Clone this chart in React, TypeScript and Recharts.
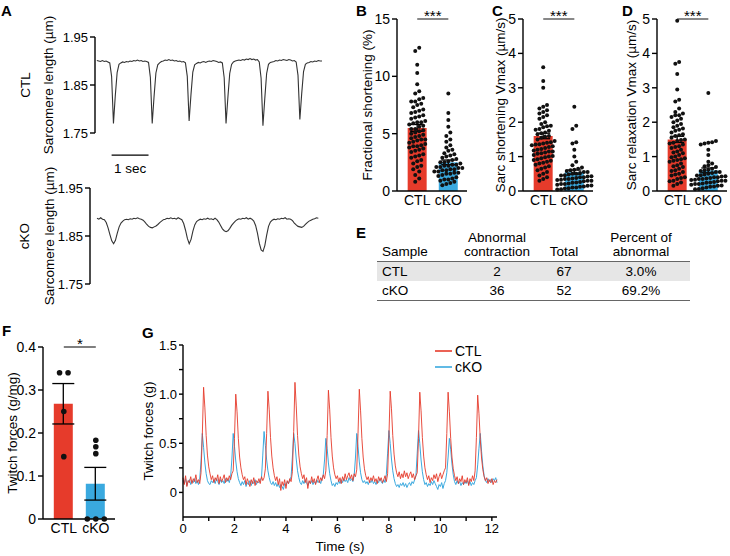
import React from 'react';
import {
  ComposedChart,
  LineChart,
  Line,
  Bar,
  Cell,
  Scatter,
  XAxis,
  YAxis,
  ErrorBar,
  ReferenceLine,
  Legend,
} from 'recharts';

const FONT = "'Liberation Sans', Arial, Helvetica, sans-serif";
const RED = '#e63b2b';
const BLUE = '#3aa9df';
const groups = ['CTL', 'cKO'];

// ---- Panel A: sarcomere length traces (µm), one sample every 0.05 s
const A_STEP = 0.05;
const aCtl = [
  1.901, 1.900, 1.899, 1.901, 1.899, 1.900, 1.898, 1.896, 1.868, 1.770, 1.828, 1.876, 1.893, 1.896, 1.898, 1.897, 1.899, 1.898, 1.900, 1.899,
  1.901, 1.900, 1.902, 1.900, 1.901, 1.899, 1.900, 1.899, 1.897, 1.866, 1.770, 1.826, 1.875, 1.892, 1.896, 1.899, 1.900, 1.902, 1.901, 1.903,
  1.901, 1.902, 1.900, 1.901, 1.899, 1.900, 1.898, 1.899, 1.896, 1.868, 1.775, 1.830, 1.877, 1.892, 1.895, 1.897, 1.896, 1.898, 1.899, 1.897,
  1.899, 1.900, 1.899, 1.901, 1.900, 1.899, 1.897, 1.898, 1.896, 1.865, 1.770, 1.824, 1.874, 1.893, 1.898, 1.900, 1.901, 1.902, 1.901, 1.903,
  1.902, 1.904, 1.903, 1.905, 1.903, 1.904, 1.902, 1.903, 1.898, 1.864, 1.765, 1.822, 1.874, 1.893, 1.897, 1.898, 1.899, 1.901, 1.900, 1.902,
  1.901, 1.903, 1.902, 1.901, 1.903, 1.902, 1.900, 1.901, 1.898, 1.870, 1.778, 1.832, 1.878, 1.893, 1.896, 1.897, 1.899, 1.898, 1.900, 1.899,
  1.901, 1.900, 1.900,
];
const aCko = [
  1.887, 1.885, 1.888, 1.885, 1.884, 1.878, 1.867, 1.853, 1.840, 1.834, 1.841, 1.856, 1.869, 1.877, 1.881, 1.884, 1.885, 1.884, 1.886, 1.885,
  1.887, 1.886, 1.888, 1.886, 1.885, 1.883, 1.879, 1.874, 1.870, 1.868, 1.867, 1.869, 1.871, 1.874, 1.878, 1.881, 1.884, 1.885, 1.887, 1.886,
  1.888, 1.886, 1.887, 1.885, 1.888, 1.886, 1.884, 1.876, 1.862, 1.845, 1.834, 1.843, 1.860, 1.873, 1.880, 1.883, 1.885, 1.884, 1.886, 1.885,
  1.887, 1.885, 1.886, 1.884, 1.887, 1.884, 1.879, 1.872, 1.865, 1.861, 1.859, 1.861, 1.866, 1.872, 1.877, 1.881, 1.884, 1.886, 1.885, 1.887,
  1.886, 1.888, 1.885, 1.887, 1.885, 1.881, 1.872, 1.856, 1.835, 1.821, 1.818, 1.830, 1.852, 1.870, 1.879, 1.883, 1.885, 1.884, 1.886, 1.885,
  1.887, 1.886, 1.888, 1.885, 1.886, 1.885, 1.882, 1.877, 1.873, 1.870, 1.869, 1.868, 1.870, 1.874, 1.878, 1.881, 1.883, 1.885, 1.886, 1.888,
  1.887,
];
const aTicks = [1.75, 1.85, 1.95];
const scaleBarStart = 0.4;
const scaleBarSec = 1;

// ---- Panels B–D: individual cells and mean ± SEM
const bCtl = [12.5, 12.2, 11.0, 10.3, 9.3, 8.7, 8.5, 8.1, 8.0, 7.8, 7.8, 7.6, 7.5, 7.3, 7.1, 6.9, 6.8, 6.6, 6.4, 6.3, 6.1, 6.0, 6.0, 5.8, 5.7, 5.6, 5.4, 5.4, 5.2, 5.1, 5.0, 4.9, 4.8, 4.7, 4.6, 4.5, 4.5, 4.3, 4.2, 4.1, 4.0, 3.9, 3.9, 3.7, 3.6, 3.5, 3.4, 3.2, 3.1, 3.0, 2.9, 2.7, 2.6, 2.4, 2.2, 2.1, 1.9, 1.7, 1.4, 1.1, 0.8, 5.9, 5.3, 6.5, 4.4, 3.8, 7.0];
const bCko = [8.5, 6.8, 6.2, 5.6, 5.1, 4.8, 4.5, 4.3, 4.0, 3.8, 3.6, 3.5, 3.3, 3.2, 3.1, 3.0, 2.9, 2.8, 2.7, 2.6, 2.5, 2.5, 2.4, 2.3, 2.3, 2.2, 2.1, 2.1, 2.0, 2.0, 1.9, 1.9, 1.8, 1.8, 1.7, 1.7, 1.6, 1.5, 1.5, 1.4, 1.3, 1.2, 1.1, 1.0, 1.0, 0.9, 0.8, 0.7, 0.6, 0.5, 2.2, 1.6];
const bMeans = [5.5, 2.5];
const bSems = [0.3, 0.2];

const cCtl = [3.6, 3.2, 3.0, 2.5, 2.45, 2.4, 2.35, 2.3, 2.25, 2.2, 2.15, 2.1, 2.0, 1.95, 1.9, 1.88, 1.85, 1.8, 1.78, 1.75, 1.7, 1.68, 1.65, 1.6, 1.58, 1.55, 1.5, 1.45, 1.42, 1.4, 1.38, 1.36, 1.33, 1.3, 1.28, 1.25, 1.22, 1.2, 1.18, 1.15, 1.12, 1.1, 1.08, 1.05, 1.02, 1.0, 0.98, 0.95, 0.92, 0.9, 0.88, 0.85, 0.82, 0.8, 0.76, 0.72, 0.68, 0.65, 0.6, 0.55, 0.5, 0.45, 0.4, 0.35, 0.3, 1.35, 1.15];
const cCko = [2.45, 1.9, 1.8, 1.42, 1.38, 1.2, 1.0, 0.85, 0.75, 0.68, 0.65, 0.62, 0.6, 0.58, 0.55, 0.52, 0.5, 0.5, 0.48, 0.46, 0.45, 0.43, 0.42, 0.4, 0.4, 0.38, 0.36, 0.35, 0.33, 0.32, 0.3, 0.3, 0.28, 0.26, 0.25, 0.24, 0.22, 0.2, 0.2, 0.18, 0.16, 0.15, 0.13, 0.12, 0.1, 0.1, 0.08, 0.07, 0.05, 0.04, 0.55, 0.35];
const cMeans = [1.6, 0.55];
const cSems = [0.08, 0.06];

const dCtl = [4.95, 3.75, 3.7, 3.4, 2.95, 2.65, 2.6, 2.4, 2.25, 2.2, 2.2, 2.15, 2.1, 2.05, 2.0, 1.95, 1.9, 1.85, 1.82, 1.78, 1.75, 1.7, 1.65, 1.6, 1.55, 1.5, 1.48, 1.45, 1.4, 1.35, 1.3, 1.28, 1.25, 1.2, 1.15, 1.12, 1.1, 1.05, 1.0, 0.98, 0.95, 0.9, 0.88, 0.85, 0.8, 0.75, 0.72, 0.7, 0.65, 0.6, 0.58, 0.55, 0.5, 0.48, 0.45, 0.4, 0.38, 0.35, 0.3, 0.28, 0.25, 0.2, 0.15, 1.38, 1.62, 0.92, 2.3];
const dCko = [2.85, 1.45, 1.42, 1.4, 1.38, 1.35, 1.2, 1.05, 0.85, 0.8, 0.75, 0.72, 0.7, 0.65, 0.62, 0.6, 0.58, 0.55, 0.52, 0.5, 0.48, 0.46, 0.45, 0.43, 0.42, 0.4, 0.4, 0.38, 0.36, 0.35, 0.33, 0.32, 0.3, 0.3, 0.28, 0.26, 0.25, 0.24, 0.22, 0.2, 0.2, 0.18, 0.16, 0.15, 0.13, 0.12, 0.1, 0.08, 0.06, 0.05, 0.55, 0.35];
const dMeans = [1.5, 0.6];
const dSems = [0.09, 0.07];

// ---- Panel E: table
const eSamples = ['CTL', 'cKO'];
const eAbnormal = [2, 36];
const eTotal = [67, 52];
const ePercent = ['3.0%', '69.2%'];

// ---- Panel F: twitch force per mg
const fCtl = [0.34, 0.34, 0.25, 0.145];
const fCko = [0.183, 0.168, 0.152, 0, 0, 0];
const fMeans = [0.268, 0.082];
const fSems = [0.047, 0.038];

// ---- Panel G: twitch force traces (g), one sample every 0.05 s
const G_STEP = 0.05;
const gCtl = [
  0.15, 0.08, 0.17, 0.06, 0.12, 0.10, 0.16, 0.09, 0.14, 0.11, 0.18, 0.10, 0.13, 0.09, 0.20, 0.58, 1.07, 0.86, 0.58, 0.38,
  0.26, 0.19, 0.13, 0.17, 0.10, 0.15, 0.12, 0.18, 0.09, 0.16, 0.11, 0.14, 0.18, 0.10, 0.15, 0.12, 0.17, 0.13, 0.19, 0.22,
  0.55, 1.00, 0.82, 0.55, 0.36, 0.25, 0.18, 0.13, 0.16, 0.08, 0.14, 0.10, 0.06, 0.13, 0.09, 0.15, 0.07, 0.12, 0.10, 0.14,
  0.09, 0.16, 0.12, 0.15, 0.24, 0.60, 1.03, 0.84, 0.56, 0.37, 0.25, 0.17, 0.12, 0.16, 0.08, 0.14, 0.02, 0.11, 0.07, 0.13,
  0.04, 0.12, 0.09, 0.14, 0.11, 0.21, 0.62, 1.12, 0.88, 0.58, 0.38, 0.26, 0.19, 0.14, 0.18, 0.10, 0.15, 0.04, 0.12, 0.09,
  0.16, 0.10, 0.14, 0.08, 0.13, 0.17, 0.10, 0.15, 0.12, 0.18, 0.14, 0.22, 0.58, 1.04, 0.84, 0.56, 0.37, 0.25, 0.18, 0.14,
  0.17, 0.11, 0.15, 0.09, 0.16, 0.12, 0.19, 0.13, 0.17, 0.20, 0.14, 0.18, 0.12, 0.19, 0.16, 0.23, 0.60, 1.05, 0.83, 0.55,
  0.36, 0.24, 0.17, 0.13, 0.16, 0.10, 0.15, 0.12, 0.17, 0.11, 0.14, 0.09, 0.16, 0.12, 0.15, 0.10, 0.13, 0.17, 0.11, 0.19,
  0.56, 1.03, 0.85, 0.58, 0.39, 0.27, 0.20, 0.16, 0.21, 0.14, 0.19, 0.15, 0.22, 0.16, 0.20, 0.14, 0.18, 0.21, 0.15, 0.19,
  0.13, 0.17, 0.20, 0.55, 1.02, 0.83, 0.56, 0.37, 0.25, 0.18, 0.13, 0.17, 0.10, 0.15, 0.12, 0.18, 0.14, 0.19, 0.11, 0.16,
  0.20, 0.14, 0.18, 0.22, 0.25, 0.60, 1.02, 0.82, 0.55, 0.36, 0.24, 0.17, 0.12, 0.16, 0.09, 0.14, 0.11, 0.17, 0.08, 0.13,
  0.10, 0.15, 0.07, 0.14, 0.11, 0.17, 0.12, 0.22, 0.56, 0.99, 0.80, 0.54, 0.35, 0.23, 0.16, 0.12, 0.15, 0.09, 0.13, 0.10,
  0.14, 0.08, 0.12, 0.10, 0.13,
];
const gCko = [
  0.12, 0.09, 0.14, 0.07, 0.11, 0.13, 0.08, 0.12, 0.10, 0.14, 0.09, 0.12, 0.08, 0.13, 0.32, 0.60, 0.46, 0.30, 0.19, 0.12,
  0.09, 0.08, 0.12, 0.10, 0.13, 0.09, 0.14, 0.11, 0.08, 0.13, 0.10, 0.12, 0.09, 0.14, 0.11, 0.13, 0.10, 0.16, 0.34, 0.60,
  0.47, 0.32, 0.21, 0.14, 0.10, 0.07, 0.11, 0.08, 0.12, 0.06, 0.10, 0.08, 0.12, 0.07, 0.11, 0.09, 0.13, 0.08, 0.11, 0.10,
  0.12, 0.15, 0.38, 0.62, 0.48, 0.33, 0.22, 0.15, 0.10, 0.08, 0.11, 0.07, 0.10, 0.06, 0.09, 0.05, 0.08, 0.06, 0.03, 0.09,
  0.07, 0.11, 0.09, 0.13, 0.16, 0.36, 0.60, 0.50, 0.34, 0.22, 0.15, 0.10, 0.08, 0.12, 0.09, 0.13, 0.10, 0.07, 0.11, 0.09,
  0.12, 0.08, 0.11, 0.09, 0.13, 0.10, 0.12, 0.09, 0.14, 0.18, 0.33, 0.55, 0.45, 0.30, 0.19, 0.12, 0.07, 0.09, 0.06, 0.10,
  0.08, 0.12, 0.09, 0.13, 0.10, 0.14, 0.11, 0.13, 0.10, 0.15, 0.12, 0.14, 0.11, 0.17, 0.35, 0.60, 0.47, 0.31, 0.20, 0.13,
  0.10, 0.12, 0.09, 0.11, 0.08, 0.12, 0.10, 0.13, 0.09, 0.11, 0.08, 0.12, 0.10, 0.14, 0.11, 0.09, 0.13, 0.10, 0.18, 0.40,
  0.63, 0.50, 0.34, 0.22, 0.14, 0.09, 0.06, 0.08, 0.05, 0.09, 0.07, 0.10, 0.06, 0.09, 0.05, 0.08, 0.10, 0.07, 0.11, 0.09,
  0.13, 0.17, 0.40, 0.63, 0.50, 0.33, 0.21, 0.13, 0.08, 0.10, 0.06, 0.09, 0.07, 0.11, 0.08, 0.12, 0.09, 0.06, 0.03, 0.08,
  0.06, 0.10, 0.04, 0.09, 0.12, 0.20, 0.36, 0.55, 0.44, 0.29, 0.18, 0.11, 0.08, 0.12, 0.09, 0.11, 0.07, 0.10, 0.08, 0.11,
  0.09, 0.12, 0.08, 0.11, 0.07, 0.10, 0.08, 0.12, 0.15, 0.28, 0.45, 0.60, 0.42, 0.27, 0.17, 0.12, 0.10, 0.14, 0.11, 0.13,
  0.10, 0.14, 0.12, 0.15, 0.10,
];
const gXTicks = [0, 1, 2, 3, 4, 5, 6, 7, 8, 9, 10, 11, 12];
const gYTicks = [0, 0.25, 0.5, 0.75, 1, 1.25, 1.5];
const gLegend = [
  { name: 'CTL', color: RED },
  { name: 'cKO', color: BLUE },
];

const X_DOMAIN: [number, number] = [0.35, 2.6];
const axisStyle = { stroke: '#000', strokeWidth: 1.4 };

type Pt = { x: number; y: number };

// prism-like column scatter: values closer than binPx share a row, rows are centred
function swarm(values: number[], center: number, pxY: number, pxX: number, binPx: number, stepPx: number): Pt[] {
  const sorted = [...values].sort((a, b) => a - b);
  const rows: number[][] = [];
  let start = -Infinity;
  sorted.forEach((v) => {
    if (rows.length === 0 || (v - start) * pxY >= binPx) {
      rows.push([v]);
      start = v;
    } else {
      rows[rows.length - 1].push(v);
    }
  });
  const pts: Pt[] = [];
  rows.forEach((row) => {
    row.forEach((v, i) => {
      pts.push({ x: center + ((i - (row.length - 1) / 2) * stepPx) / pxX, y: v });
    });
  });
  return pts;
}

const rotLabels = (items: { text: string; x: number }[], fontSize: number) => (props: any) => {
  const vb = props.viewBox || {};
  const cy = (vb.y ?? 0) + (vb.height ?? 0) / 2;
  return (
    <g>
      {items.map((it) => (
        <text
          key={it.text}
          x={it.x}
          y={cy}
          transform={`rotate(-90, ${it.x}, ${cy})`}
          textAnchor="middle"
          dominantBaseline="central"
          fontSize={fontSize}
          fontFamily={FONT}
          fill="#000"
        >
          {it.text}
        </text>
      ))}
    </g>
  );
};

const sigLabel = (text: string) => (props: any) => {
  const vb = props.viewBox || {};
  return (
    <text x={vb.x + (vb.width || 0) / 2} y={vb.y + 1.5} textAnchor="middle" fontSize={15} fontFamily={FONT} fill="#000">
      {text}
    </text>
  );
};

const dotShape = (r: number) => (p: any) => <circle cx={p.cx} cy={p.cy} r={r} fill="#111" />;

type DotBarProps = {
  left: number;
  top: number;
  width: number;
  height: number;
  axisW: number;
  mRight: number;
  mTop: number;
  xAxisH: number;
  yDomain: [number, number];
  yTicks: number[];
  tickFmt?: (v: number) => string;
  ctl: number[];
  cko: number[];
  means: number[];
  sems: number[];
  label: string;
  labelX: number;
  sig: string;
  dotR: number;
  binPx: number;
  stepPx: number;
  capW: number;
};

const DotBarPanel: React.FC<DotBarProps> = (p) => {
  const plotH = p.height - p.mTop - p.xAxisH;
  const plotW = p.width - p.axisW - p.mRight;
  const pxY = plotH / (p.yDomain[1] - p.yDomain[0]);
  const pxX = plotW / (X_DOMAIN[1] - X_DOMAIN[0]);
  const barData = groups.map((g, i) => ({ x: i + 1, name: g, mean: p.means[i], sem: p.sems[i] }));
  const dots = [
    ...swarm(p.ctl, 1, pxY, pxX, p.binPx, p.stepPx),
    ...swarm(p.cko, 2, pxY, pxX, p.binPx, p.stepPx),
  ];
  return (
    <div style={{ position: 'absolute', left: p.left, top: p.top }}>
      <ComposedChart
        width={p.width}
        height={p.height}
        data={barData}
        margin={{ top: p.mTop, right: p.mRight, left: 0, bottom: 0 }}
      >
        <XAxis
          dataKey="x"
          type="number"
          domain={X_DOMAIN}
          ticks={[1, 2]}
          interval={0}
          tickFormatter={(v: number) => groups[v - 1] ?? ''}
          axisLine={axisStyle}
          tickLine={false}
          tickSize={0}
          tickMargin={4}
          height={p.xAxisH}
          tick={{ fill: '#000', fontSize: 14, fontFamily: FONT }}
        />
        <XAxis xAxisId="dots" dataKey="x" type="number" domain={X_DOMAIN} hide />
        <YAxis
          type="number"
          domain={p.yDomain}
          ticks={p.yTicks}
          interval={0}
          tickFormatter={p.tickFmt}
          width={p.axisW}
          axisLine={axisStyle}
          tickLine={axisStyle}
          tickSize={5}
          tickMargin={2}
          tick={{ fill: '#000', fontSize: 14, fontFamily: FONT }}
          label={rotLabels([{ text: p.label, x: p.labelX }], 13.5)}
        />
        <Bar dataKey="mean" barSize={19} isAnimationActive={false}>
          {barData.map((d, i) => (
            <Cell key={d.name} fill={i === 0 ? RED : BLUE} />
          ))}
          <ErrorBar dataKey="sem" width={p.capW} stroke="#000" strokeWidth={1.3} />
        </Bar>
        <Scatter xAxisId="dots" data={dots} dataKey="y" isAnimationActive={false} shape={dotShape(p.dotR)} />
        <ReferenceLine
          segment={[
            { x: 1, y: p.yDomain[1] },
            { x: 2, y: p.yDomain[1] },
          ]}
          stroke="#555"
          strokeWidth={1.4}
          ifOverflow="visible"
          label={sigLabel(p.sig)}
        />
      </ComposedChart>
    </div>
  );
};

const Letter = ({ ch, x, y }: { ch: string; x: number; y: number }) => (
  <div style={{ position: 'absolute', left: x, top: y, fontSize: 15, lineHeight: '15px', fontWeight: 700, fontFamily: FONT }}>
    {ch}
  </div>
);

const aCtlData = aCtl.map((v, i) => ({ t: i * A_STEP, v }));
const aCkoData = aCko.map((v, i) => ({ t: i * A_STEP, v }));
const gData = gCtl.map((v, i) => ({ t: i * G_STEP, ctl: v, cko: gCko[i] }));

const aTick = { fill: '#000', fontSize: 13, fontFamily: FONT };

const GLegendContent = () => (
  <div style={{ fontFamily: FONT, fontSize: 14, color: '#000' }}>
    {gLegend.map((it) => (
      <div key={it.name} style={{ display: 'flex', alignItems: 'center', height: 16 }}>
        <svg width={18} height={16}>
          <line x1={0} x2={17} y1={8} y2={8} stroke={it.color} strokeWidth={1.6} />
        </svg>
        <span style={{ marginLeft: 2 }}>{it.name}</span>
      </div>
    ))}
  </div>
);

const Table = () => {
  const th: React.CSSProperties = { fontWeight: 400, verticalAlign: 'bottom', lineHeight: '14px', padding: '0 0 2px 0', textAlign: 'center' };
  const td: React.CSSProperties = { height: 19, padding: 0, textAlign: 'center', lineHeight: '19px' };
  return (
    <table
      style={{
        position: 'absolute',
        left: 377,
        top: 231,
        width: 313,
        borderCollapse: 'collapse',
        fontFamily: FONT,
        fontSize: 13.5,
        color: '#000',
        tableLayout: 'fixed',
      }}
    >
      <colgroup>
        <col style={{ width: 81 }} />
        <col style={{ width: 78 }} />
        <col style={{ width: 56 }} />
        <col style={{ width: 98 }} />
      </colgroup>
      <thead>
        <tr style={{ borderBottom: '1.5px solid #666' }}>
          <th style={{ ...th, textAlign: 'left', paddingLeft: 5 }}>Sample</th>
          <th style={th}>
            Abnormal
            <br />
            contraction
          </th>
          <th style={th}>Total</th>
          <th style={th}>
            Percent of
            <br />
            abnormal
          </th>
        </tr>
      </thead>
      <tbody>
        {eSamples.map((s, i) => (
          <tr
            key={s}
            style={{
              background: i === 0 ? '#e6e6e6' : 'transparent',
              borderBottom: i === eSamples.length - 1 ? '1.5px solid #666' : 'none',
            }}
          >
            <td style={{ ...td, textAlign: 'left', paddingLeft: 5 }}>{s}</td>
            <td style={td}>{eAbnormal[i]}</td>
            <td style={td}>{eTotal[i]}</td>
            <td style={td}>{ePercent[i]}</td>
          </tr>
        ))}
      </tbody>
    </table>
  );
};

export default function App() {
  return (
    <div
      style={{
        position: 'absolute',
        left: 0,
        top: 0,
        width: 730,
        height: 556,
        background: '#fff',
        fontFamily: FONT,
        overflow: 'hidden',
      }}
    >
      {/* A, CTL trace */}
      <div style={{ position: 'absolute', left: 0, top: 0 }}>
        <LineChart width={330} height={180} data={aCtlData} margin={{ top: 37, right: 8, left: 0, bottom: 47 }}>
          <XAxis dataKey="t" type="number" domain={[-0.05, 6.1]} hide />
          <YAxis
            type="number"
            domain={[1.75, 1.95]}
            ticks={aTicks}
            interval={0}
            tickFormatter={(v: number) => v.toFixed(2)}
            width={95}
            axisLine={axisStyle}
            tickLine={axisStyle}
            tickSize={5}
            tickMargin={2}
            tick={aTick}
            label={rotLabels(
              [
                { text: 'CTL', x: 25 },
                { text: 'Sarcomere length (µm)', x: 48 },
              ],
              13.5,
            )}
          />
          <Line dataKey="v" stroke="#333" strokeWidth={1.1} dot={false} isAnimationActive={false} />
          <ReferenceLine
            segment={[
              { x: scaleBarStart, y: 1.704 },
              { x: scaleBarStart + scaleBarSec, y: 1.704 },
            ]}
            stroke="#000"
            strokeWidth={1.3}
            ifOverflow="visible"
            label={(props: any) => {
              const vb = props.viewBox || {};
              return (
                <text x={vb.x + (vb.width || 0) / 2} y={vb.y + 18} textAnchor="middle" fontSize={13.5} fontFamily={FONT} fill="#000">
                  1 sec
                </text>
              );
            }}
          />
        </LineChart>
      </div>

      {/* A, cKO trace */}
      <div style={{ position: 'absolute', left: 0, top: 150 }}>
        <LineChart width={330} height={175} data={aCkoData} margin={{ top: 38, right: 8, left: 0, bottom: 41 }}>
          <XAxis dataKey="t" type="number" domain={[-0.19, 6.1]} hide />
          <YAxis
            type="number"
            domain={[1.75, 1.95]}
            ticks={aTicks}
            interval={0}
            tickFormatter={(v: number) => v.toFixed(2)}
            width={90}
            axisLine={axisStyle}
            tickLine={axisStyle}
            tickSize={5}
            tickMargin={2}
            tick={aTick}
            label={rotLabels(
              [
                { text: 'cKO', x: 24 },
                { text: 'Sarcomere length (µm)', x: 49 },
              ],
              13.5,
            )}
          />
          <Line dataKey="v" stroke="#333" strokeWidth={1.1} dot={false} isAnimationActive={false} />
        </LineChart>
      </div>

      <DotBarPanel
        left={340} top={0} width={130} height={215} axisW={57} mRight={3} mTop={19} xAxisH={24}
        yDomain={[0, 15]} yTicks={[0, 5, 10, 15]}
        ctl={bCtl} cko={bCko} means={bMeans} sems={bSems}
        label="Fractional shortening (%)" labelX={27} sig="***"
        dotR={2} binPx={4.2} stepPx={4.0} capW={7}
      />
      <DotBarPanel
        left={470} top={0} width={130} height={215} axisW={53} mRight={7} mTop={19} xAxisH={24}
        yDomain={[0, 5]} yTicks={[0, 1, 2, 3, 4, 5]}
        ctl={cCtl} cko={cCko} means={cMeans} sems={cSems}
        label="Sarc shortening Vmax (µm/s)" labelX={30} sig="***"
        dotR={2} binPx={4.2} stepPx={3.8} capW={7}
      />
      <DotBarPanel
        left={600} top={0} width={130} height={215} axisW={57} mRight={3} mTop={19} xAxisH={24}
        yDomain={[0, 5]} yTicks={[0, 1, 2, 3, 4, 5]}
        ctl={dCtl} cko={dCko} means={dMeans} sems={dSems}
        label="Sarc relaxation Vmax (µm/s)" labelX={31} sig="***"
        dotR={2} binPx={4.2} stepPx={3.8} capW={7}
      />

      <Table />

      <DotBarPanel
        left={0} top={310} width={128} height={240} axisW={43} mRight={13} mTop={37} xAxisH={31}
        yDomain={[0, 0.4]} yTicks={[0, 0.1, 0.2, 0.3, 0.4]}
        tickFmt={(v: number) => (v === 0 ? '0' : v.toFixed(1))}
        ctl={fCtl} cko={fCko} means={fMeans} sems={fSems}
        label="Twitch forces (g/mg)" labelX={12} sig="*"
        dotR={2.8} binPx={6} stepPx={8.5} capW={11}
      />

      {/* G */}
      <div style={{ position: 'absolute', left: 128, top: 310 }}>
        <LineChart width={380} height={246} data={gData} margin={{ top: 35, right: 11, left: 0, bottom: 0 }}>
          <XAxis
            dataKey="t"
            type="number"
            domain={[0, 12.2]}
            ticks={gXTicks}
            interval={0}
            tickFormatter={(v: number) => (v % 2 === 0 ? String(v) : '')}
            height={39}
            axisLine={axisStyle}
            tickLine={axisStyle}
            tickSize={4}
            tickMargin={3}
            tick={{ fill: '#000', fontSize: 13, fontFamily: FONT }}
            label={{ value: 'Time (s)', position: 'insideBottom', offset: 5, fill: '#000', fontSize: 13.5, fontFamily: FONT }}
          />
          <YAxis
            type="number"
            domain={[-0.25, 1.5]}
            ticks={gYTicks}
            interval={0}
            tickFormatter={(v: number) => (v === 0 ? '0' : v % 0.5 === 0 ? v.toFixed(1) : '')}
            width={55}
            axisLine={axisStyle}
            tickLine={axisStyle}
            tickSize={4}
            tickMargin={2}
            tick={{ fill: '#000', fontSize: 13, fontFamily: FONT }}
            label={rotLabels([{ text: 'Twitch forces (g)', x: 20 }], 13.5)}
          />
          <Line dataKey="cko" stroke={BLUE} strokeWidth={1} dot={false} isAnimationActive={false} />
          <Line dataKey="ctl" stroke={RED} strokeWidth={1} strokeOpacity={0.9} dot={false} isAnimationActive={false} />
          <Legend
            layout="vertical"
            align="center"
            verticalAlign="middle"
            wrapperStyle={{ top: 33, left: 307, width: 70, height: 34 }}
            content={() => <GLegendContent />}
          />
        </LineChart>
      </div>

      <Letter ch="A" x={1} y={3} />
      <Letter ch="B" x={356} y={3} />
      <Letter ch="C" x={492} y={3} />
      <Letter ch="D" x={622} y={3} />
      <Letter ch="E" x={356} y={225} />
      <Letter ch="F" x={2} y={323} />
      <Letter ch="G" x={142} y={325} />
    </div>
  );
}
